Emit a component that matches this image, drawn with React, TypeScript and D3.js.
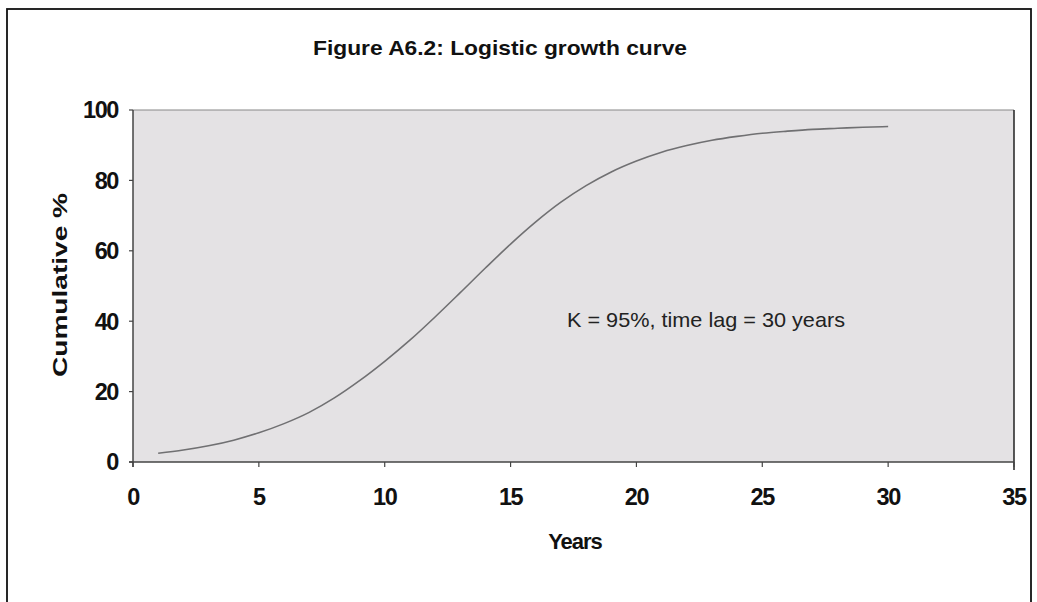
import React from "react";
import * as d3 from "d3";

const years = [1, 2, 3, 4, 5, 6, 7, 8, 9, 10, 11, 12, 13, 14, 15, 16, 17, 18, 19, 20, 21, 22, 23, 24, 25, 26, 27, 28, 29, 30];
const cumulative = [2.5, 3.4, 4.6, 6.2, 8.3, 10.9, 14.1, 18.2, 23.1, 28.6, 34.6, 41.2, 48.1, 55.1, 61.9, 68.2, 73.8, 78.5, 82.4, 85.5, 88.0, 89.9, 91.4, 92.5, 93.4, 94.0, 94.5, 94.8, 95.1, 95.3];
const xTicks = [0, 5, 10, 15, 20, 25, 30, 35];
const yTicks = [0, 20, 40, 60, 80, 100];
const title = "Figure A6.2: Logistic growth curve";
const xTitle = "Years";
const yTitle = "Cumulative %";
const note = "K = 95%, time lag = 30 years";

const W = 1037;
const H = 602;
const left = 133;
const right = 1014;
const top = 110;
const bottom = 462;

export default function App() {
  const x = d3.scaleLinear().domain([0, 35]).range([left, right]);
  const y = d3.scaleLinear().domain([0, 100]).range([bottom, top]);
  const pts = years.map((yr, i) => [yr, cumulative[i]] as [number, number]);
  const line = d3
    .line<[number, number]>()
    .x((d) => x(d[0]))
    .y((d) => y(d[1]))
    .curve(d3.curveMonotoneX);
  const font = "'Liberation Sans', Arial, sans-serif";
  return (
    <svg
      width={W}
      height={H}
      viewBox={`0 0 ${W} ${H}`}
      style={{ position: "absolute", left: 0, top: 0, background: "#fff" }}
      fontFamily={font}
    >
      <rect x={7} y={9} width={1024} height={H + 20} fill="none" stroke="#111" strokeWidth={1.8} />
      <text
        x={500}
        y={55}
        textAnchor="middle"
        fontSize={21}
        fontWeight="bold"
        fill="#111"
        textLength={374}
        lengthAdjust="spacingAndGlyphs"
      >
        {title}
      </text>
      <rect x={left} y={top} width={right - left} height={bottom - top} fill="#e4e2e4" />
      <line x1={left} x2={right} y1={top} y2={top} stroke="#888" strokeWidth={1.2} />
      <line x1={right} x2={right} y1={top} y2={bottom + 8} stroke="#222" strokeWidth={1.5} />
      <line x1={left} x2={left} y1={top} y2={bottom + 5} stroke="#444" strokeWidth={1.5} />
      <line x1={left - 4} x2={right} y1={bottom} y2={bottom} stroke="#444" strokeWidth={1.5} />
      {yTicks.map((t) => (
        <g key={"y" + t}>
          <line x1={left - 4} x2={left} y1={y(t)} y2={y(t)} stroke="#444" strokeWidth={1.2} />
          <text
            x={left - 15}
            y={y(t)}
            dy="0.36em"
            textAnchor="end"
            fontSize={23.5}
            fontWeight="bold"
            fill="#111"
            letterSpacing={-1.4}
          >
            {t}
          </text>
        </g>
      ))}
      {xTicks.map((t) => (
        <g key={"x" + t}>
          <line x1={x(t)} x2={x(t)} y1={bottom} y2={bottom + 5} stroke="#444" strokeWidth={1.2} />
          <text
            x={x(t)}
            y={bottom + 43}
            textAnchor="middle"
            fontSize={23.5}
            fontWeight="bold"
            fill="#111"
            letterSpacing={-1.4}
          >
            {t}
          </text>
        </g>
      ))}
      <path d={line(pts) || ""} fill="none" stroke="#707072" strokeWidth={1.6} />
      <text x={567} y={327} fontSize={21} fill="#222" textLength={278} lengthAdjust="spacingAndGlyphs">
        {note}
      </text>
      <text
        x={575}
        y={549}
        textAnchor="middle"
        fontSize={22}
        fontWeight="bold"
        fill="#111"
        letterSpacing={-1}
      >
        {xTitle}
      </text>
      <text
        transform={`translate(67, ${285}) rotate(-90)`}
        textAnchor="middle"
        fontSize={21}
        fontWeight="bold"
        fill="#111"
        textLength={184}
        lengthAdjust="spacingAndGlyphs"
      >
        {yTitle}
      </text>
    </svg>
  );
}
